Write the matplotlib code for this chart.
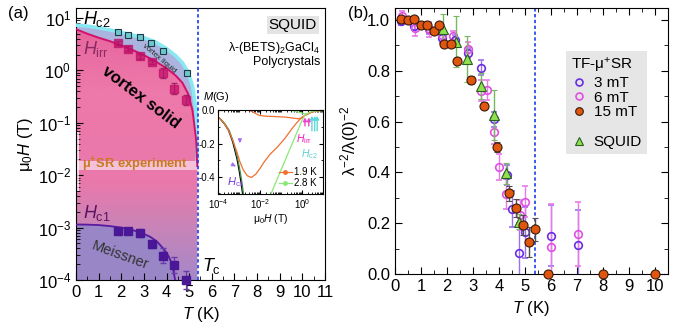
import numpy as np
import matplotlib
matplotlib.use("Agg")
import matplotlib.pyplot as plt
from matplotlib.colors import LinearSegmentedColormap
from matplotlib.path import Path
from matplotlib.lines import Line2D
from matplotlib.ticker import MultipleLocator, FixedLocator, LogLocator, NullFormatter

plt.rcParams['font.family'] = ['Liberation Sans', 'DejaVu Sans']
plt.rcParams['mathtext.fontset'] = 'custom'
plt.rcParams['mathtext.rm'] = 'Liberation Sans'
plt.rcParams['mathtext.it'] = 'Liberation Sans:italic'
plt.rcParams['mathtext.bf'] = 'Liberation Sans:bold'

TC = 5.37

# ---- panel (a): phase diagram ----
T_grid = [0, 0.5, 1.0, 1.5, 2.0, 2.5, 3.0, 3.5, 4.0, 4.4, 4.7, 4.95, 5.15, 5.3, 5.36]
Hc2_curve = [7.3, 7.0, 6.5, 5.9, 5.3, 4.7, 4.2, 3.5, 2.6, 1.9, 1.4, 0.92, 0.5, 0.18, 0.02]
Hirr_curve = [6.1, 5.0, 4.2, 3.6, 3.0, 2.45, 1.95, 1.5, 1.1, 0.8, 0.58, 0.36, 0.17, 0.05, 0.015]
T_c1_curve = [0, 0.5, 1.0, 1.5, 2.0, 2.5, 3.0, 3.3, 3.6, 3.9, 4.1, 4.25, 4.38, 4.45]
Hc1_curve = [1.15e-3, 1.14e-3, 1.12e-3, 1.07e-3, 1.0e-3, 9.0e-4, 7.6e-4, 6.6e-4,
             5.3e-4, 3.8e-4, 2.8e-4, 2.0e-4, 1.0e-4, 5e-5]

T_hc2 = [1.84, 2.31, 2.82, 3.33, 3.85, 4.9]
H_hc2 = [5.4, 4.8, 4.3, 3.4, 2.3, 0.91]
f_hc2 = [1.08, 1.08, 1.08, 1.08, 1.08, 1.1]

T_pts = [1.84, 2.31, 2.82, 3.35, 3.85, 4.35, 4.85]
H_irr = [3.3, 2.6, 1.85, 1.45, 0.9, 0.45, 0.27]
f_irr = [1.1, 1.1, 1.1, 1.1, 1.25, 1.28, 1.25]
H_c1 = [8.6e-4, 8.6e-4, 7.8e-4, 4.8e-4, 2.9e-4, 1.95e-4, 1.0e-4]
f_c1 = [1.15, 1.15, 1.2, 1.15, 1.38, 1.4, 1.5]

# ---- inset: M(H) ----
H_black = [1.0e-4, 1.26e-4, 2.0e-4, 3.16e-4, 5.0e-4, 7.9e-4, 1.0e-3, 1.26e-3, 1.5e-3]
M_black = [-0.04, -0.05, -0.08, -0.12, -0.19, -0.29, -0.36, -0.44, -0.51]
H_dgreen = [1.0e-4, 1.26e-4, 2.1e-4, 3.4e-4, 5.4e-4, 8.6e-4, 1.1e-3, 1.4e-3, 1.65e-3]
M_dgreen = [-0.04, -0.05, -0.08, -0.12, -0.19, -0.29, -0.36, -0.44, -0.51]
H_or_up = [1.0e-4, 1.26e-4, 2.0e-4, 3.16e-4, 5.0e-4, 7.9e-4, 1.1e-3, 1.6e-3, 2.5e-3, 3.9e-3,
           6.3e-3, 1.0e-2, 1.6e-2, 3.0e-2, 6.8e-2, 0.15, 0.29, 0.55, 1.0, 1.6, 2.9, 5.0, 9.0]
M_or_up = [-0.04, -0.05, -0.08, -0.12, -0.18, -0.25, -0.31, -0.36, -0.395, -0.405, -0.385,
           -0.35, -0.31, -0.265, -0.22, -0.17, -0.12, -0.075, -0.04, -0.025, -0.01, -0.003, 0.0]
H_or_dn = [3.2e-3, 5.0e-3, 9.3e-3, 2.0e-2, 3.9e-2, 0.16, 0.68, 1.0, 1.4, 2.9, 5.0, 9.0]
M_or_dn = [0.0, -0.012, -0.03, -0.035, -0.036, -0.04, -0.05, -0.045, -0.03, -0.01, -0.003, 0.0]
H_lg_up = [0.033, 0.1, 0.316, 1.0, 1.4, 3.0, 9.0]
M_lg_up = [-0.505, -0.36, -0.21, -0.06, -0.025, -0.005, 0.0]
H_lg_dn = [0.2, 0.34, 0.7, 1.4]
M_lg_dn = [0.01, 0.0, -0.01, -0.02]
H_arr_irr = [1.38, 2.1]
H_arr_c2 = [2.95, 4.0, 5.25]

# ---- panel (b): superfluid density ----
T_15 = [0.22, 0.49, 0.74, 0.99, 1.24, 1.5, 1.69, 1.88, 2.14, 2.4, 2.92, 3.43, 3.91,
        4.4, 4.65, 4.91, 5.14, 5.38, 5.9, 8.0, 10.0]
v_15 = [1.003, 1.0, 1.004, 0.98, 0.98, 0.958, 0.98, 0.904, 0.904, 0.839, 0.764, 0.663,
        0.50, 0.318, 0.261, 0.192, 0.127, 0.177, 0.0, 0.0, 0.0]
e_15 = [0.01, 0.01, 0.01, 0.01, 0.01, 0.01, 0.01, 0.01, 0.01, 0.01, 0.015, 0.015, 0.02,
        0.03, 0.035, 0.04, 0.06, 0.045, 0, 0, 0]
T_3 = [0.25, 0.75, 1.3, 1.8, 2.3, 2.8, 3.31, 3.81, 4.32, 4.5, 4.78, 5.01, 6.0, 7.03]
v_3 = [0.995, 0.975, 0.965, 0.93, 0.92, 0.871, 0.812, 0.609, 0.39, 0.255, 0.081, 0.164,
       0.151, 0.114]
e_3 = [0.015, 0.015, 0.02, 0.02, 0.02, 0.02, 0.03, 0.03, 0.04, 0.07, 0.12, 0.1, 0.12, 0.14]
T_6 = [0.26, 0.77, 1.32, 1.8, 2.22, 2.8, 3.3, 3.55, 3.81, 4.01, 4.29, 4.81, 5.01, 6.0, 7.03]
v_6 = [1.015, 0.967, 0.963, 0.94, 0.937, 0.885, 0.722, 0.724, 0.56, 0.422, 0.315, 0.232,
       0.285, 0.105, 0.157]
e_6 = [0.02, 0.03, 0.03, 0.02, 0.02, 0.03, 0.04, 0.04, 0.05, 0.05, 0.06, 0.06, 0.06, 0.17, 0.125]
T_sq = [1.86, 2.33, 2.78, 3.3, 3.81, 4.29, 4.78]
v_sq = [0.963, 0.915, 0.845, 0.74, 0.626, 0.396, 0.206]
e_sq = [0.06, 0.1, 0.09, 0.05, 0.1, 0.04, 0.03]


def ferr(vals, fac):
    vals = np.asarray(vals)
    fac = np.asarray(fac)
    return [vals - vals / fac, vals * fac - vals]


fig = plt.figure(figsize=(6.91, 3.33), dpi=100)
ax = fig.add_axes([0.110, 0.159, 0.3603, 0.817])
axb = fig.add_axes([0.5716, 0.177, 0.395, 0.799])

# ================= panel (a) =================
ax.set_yscale('log')
ax.set_xlim(0, 11)
ax.set_ylim(1e-4, 15.5)
ax.set_autoscale_on(False)

# vortex solid: vertical gradient clipped under H_irr
grad = LinearSegmentedColormap.from_list(
    'solid', [(0.0, '#a488c8'), (0.19, '#c884b8'), (0.36, '#ea78aa'),
              (0.7, '#ee78aa'), (1.0, '#e3609a')])
im = ax.imshow(np.linspace(0, 1, 256).reshape(-1, 1), cmap=grad, origin='lower',
               extent=[0, 1, 0, 1], transform=ax.transAxes, aspect='auto', zorder=0)
verts = list(zip(T_grid, Hirr_curve)) + [(T_grid[-1], 1e-4), (0, 1e-4), (0, Hirr_curve[0])]
im.set_clip_path(Path(verts), ax.transData)

ax.fill_between(T_c1_curve, 1e-5, Hc1_curve, color='#9886c6', lw=0, zorder=1)
ax.fill_between(T_grid, Hirr_curve, Hc2_curve, color='#aab4de', lw=0, zorder=1)

# muSR band
ax.fill_between([0, 5.35], 1.25e-2, 1.9e-2, color='white', alpha=0.55, lw=0, zorder=2)
ax.fill_between([0, 0.12], 4.9e-3, 6.6e-2, color='white', alpha=0.7, lw=0, zorder=2)

ax.plot(T_grid, Hc2_curve, color='#8ae8f2', lw=2.6, zorder=3)
ax.plot(T_grid, Hirr_curve, color='#d4106a', lw=1.4, zorder=3)
ax.plot(T_c1_curve, Hc1_curve, color='#5a1aa0', lw=1.3, zorder=3)
ax.axvline(TC, color='#1a3ee8', ls=(0, (2, 1.5)), lw=1.2, zorder=3)

ax.errorbar(T_hc2, H_hc2, yerr=ferr(H_hc2, f_hc2), fmt='s', ms=5, mfc='#6cc8cc',
            mec='#203848', mew=0.8, ecolor='#203848', elinewidth=0.8, capsize=2, zorder=5)
ax.errorbar(T_pts, H_irr, yerr=ferr(H_irr, f_irr), fmt='s', ms=6, color='#c0106a',
            alpha=0.75, ecolor='#8a1050', elinewidth=0.9, capsize=2, zorder=5)
ax.errorbar(T_pts, H_c1, yerr=ferr(H_c1, f_c1), fmt='s', ms=6, color='#4a1896',
            ecolor='#6a3aa8', elinewidth=0.9, capsize=2, zorder=5, clip_on=False)

ax.text(0.3, 9.5, r'$H_{\mathrm{c2}}$', fontsize=13, va='center', zorder=6)
ax.text(0.3, 2.6, r'$H_{\mathrm{irr}}$', fontsize=13, va='center', color='#8a2a62', zorder=6)
ax.text(3.65, 1.7, 'vortex liquid', fontsize=5.5, rotation=-40, ha='center', va='center',
        color='#222222', zorder=6)
ax.text(2.85, 0.3, 'vortex solid', fontsize=12, fontweight='bold', rotation=-37,
        ha='center', va='center', zorder=6)
ax.text(2.6, 1.55e-2, r'μ$^{\mathbf{+}}$SR experiment', fontsize=9.3, fontweight='bold',
        color='#c87a20', ha='center', va='center', zorder=6)
ax.text(0.3, 1.9e-3, r'$H_{\mathrm{c1}}$', fontsize=13, va='center', color='#5a1262', zorder=6)
ax.text(1.95, 3.0e-4, 'Meissner', fontsize=10.5, rotation=-20, ha='center', va='center',
        color='#333333', zorder=6)
ax.text(5.55, 1.85e-4, r'$T_{\mathrm{c}}$', fontsize=13, va='center', zorder=6)
ax.text(0.968, 0.9375, 'SQUID', transform=ax.transAxes, fontsize=11, ha='right',
        va='center', bbox=dict(facecolor='#e4e4e4', edgecolor='none', pad=1.5), zorder=6)
ax.text(0.98, 0.853, r'λ-(BETS)$_2$GaCl$_4$', transform=ax.transAxes, fontsize=9,
        ha='right', va='center', zorder=6)
ax.text(0.98, 0.80, 'Polycrystals', transform=ax.transAxes, fontsize=9,
        ha='right', va='center', zorder=6)

ax.xaxis.set_major_locator(MultipleLocator(1))
ax.xaxis.set_minor_locator(MultipleLocator(0.5))
ax.yaxis.set_major_locator(LogLocator(base=10, numticks=10))
ax.yaxis.set_minor_locator(LogLocator(base=10, subs=np.arange(2, 10), numticks=20))
ax.yaxis.set_minor_formatter(NullFormatter())
ax.tick_params(which='both', direction='in', top=False, right=False, labelsize=12)
ax.tick_params(which='major', length=5)
ax.tick_params(which='minor', length=3)
ax.set_xlabel(r'$T$ (K)', fontsize=12)
ax.set_ylabel(r'$\mathrm{\mu_0}H$ (T)', fontsize=12, labelpad=2)

# ================= inset =================
axin = fig.add_axes([0.3155, 0.4174, 0.152, 0.2523])
axin.set_xscale('log')
axin.set_xlim(1e-4, 10)
axin.set_ylim(-0.505, 0.003)
axin.plot(H_black, M_black, color='black', lw=0.9)
axin.plot(H_dgreen, M_dgreen, color='#3d8b45', lw=0.9)
axin.plot(H_or_up, M_or_up, color='#f07030', lw=0.9)
axin.plot(H_or_dn, M_or_dn, color='#f07030', lw=0.9)
axin.plot(H_lg_up, M_lg_up, color='#8ae878', lw=0.9)
axin.plot(H_lg_dn, M_lg_dn, color='#8ae878', lw=0.9)
for h in H_arr_irr:
    axin.annotate('', xy=(h, -0.025), xytext=(h, -0.11),
                  arrowprops=dict(arrowstyle='-|>', color='#f040d0', lw=1, mutation_scale=5))
for h in H_arr_c2:
    axin.annotate('', xy=(h, -0.015), xytext=(h, -0.14),
                  arrowprops=dict(arrowstyle='-|>', color='#60d8d8', lw=1, mutation_scale=5))
axin.annotate('', xy=(1.1e-3, -0.215), xytext=(1.1e-3, -0.155),
              arrowprops=dict(arrowstyle='-|>', color='#a070f0', lw=1, mutation_scale=5))
axin.annotate('', xy=(9.3e-4, -0.345), xytext=(4.5e-4, -0.325),
              arrowprops=dict(arrowstyle='-|>', color='#a070f0', lw=1, mutation_scale=5))
axin.text(0.5, -0.175, r'$H_{\mathrm{irr}}$', fontsize=7.5, color='#f020c0', va='center')
axin.text(0.85, -0.265, r'$H_{\mathrm{c2}}$', fontsize=7.5, color='#60d0d0', va='center')
axin.text(2.6e-4, -0.43, r'$H_{\mathrm{c1}}$', fontsize=8, color='#7a3ae0', va='center')
axin.text(-0.14, 1.15, r'$M$(G)', transform=axin.transAxes, fontsize=8, va='center')
leg_in = [Line2D([], [], color='#f07030', marker='o', ms=2.5, lw=0.9),
          Line2D([], [], color='#8ae878', marker='o', ms=2.5, lw=0.9)]
axin.legend(leg_in, ['1.9 K', '2.8 K'], loc='lower right', fontsize=7, frameon=False,
            handlelength=1.3, handletextpad=0.3, labelspacing=0.1, borderaxespad=0.2)
axin.xaxis.set_major_locator(FixedLocator([1e-4, 1e-2, 1e0]))
axin.xaxis.set_minor_locator(LogLocator(base=10, subs=np.arange(1, 10), numticks=30))
axin.xaxis.set_minor_formatter(NullFormatter())
axin.yaxis.set_major_locator(FixedLocator([0.0, -0.2, -0.4]))
axin.yaxis.set_minor_locator(MultipleLocator(0.1))
axin.yaxis.set_major_formatter(plt.FuncFormatter(lambda v, p: '%.1f' % v))
axin.tick_params(which='both', direction='in', top=True, right=True, labelsize=7, pad=2)
axin.tick_params(which='major', length=3)
axin.tick_params(which='minor', length=1.5)
axin.set_xlabel(r'$\mathrm{\mu_0}H$ (T)', fontsize=7.5, labelpad=1)

# ================= panel (b) =================
axb.set_xlim(0, 10.5)
axb.set_ylim(0, 1.047)
axb.axvline(TC, color='#1a3ee8', ls=(0, (2, 1.5)), lw=1.2, zorder=1)
axb.errorbar(T_3, v_3, yerr=e_3, fmt='o', ms=5.5, mfc='none', mec='#6a2ee0', mew=1.2,
             ecolor='#9a70ee', elinewidth=1, capsize=2, zorder=3)
axb.errorbar(T_6, v_6, yerr=e_6, fmt='o', ms=5.5, mfc='none', mec='#e050e0', mew=1.2,
             ecolor='#e87ae8', elinewidth=1, capsize=2, zorder=3)
axb.errorbar(T_sq, v_sq, yerr=e_sq, fmt='^', ms=7, mfc='#90e050', mec='#2a6020', mew=0.8,
             ecolor='#78b860', elinewidth=1, capsize=2, zorder=4)
axb.errorbar(T_15, v_15, yerr=e_15, fmt='o', ms=6.5, mfc='#e0560e', mec='#3a1a08', mew=0.8,
             ecolor='#505050', elinewidth=1, capsize=2, zorder=5, clip_on=False)

handles = [Line2D([], [], ls='none', marker='o', ms=5, mfc='none', mec='#6a2ee0', mew=1.2),
           Line2D([], [], ls='none', marker='o', ms=5, mfc='none', mec='#e050e0', mew=1.2),
           Line2D([], [], ls='none', marker='o', ms=5.5, mfc='#e0560e', mec='#3a1a08', mew=0.8),
           Line2D([], [], ls='none'),
           Line2D([], [], ls='none', marker='^', ms=6, mfc='#90e050', mec='#2a6020', mew=0.8)]
leg = axb.legend(handles, ['3 mT', '6 mT', '15 mT', '', 'SQUID'], title=r'TF-μ$^{+}$SR',
                 loc='upper left', bbox_to_anchor=(0.597, 0.868), fontsize=11,
                 title_fontsize=11, alignment='left', facecolor='#e6e6e6', edgecolor='none',
                 framealpha=1, fancybox=False, handlelength=1.0, handletextpad=0.5,
                 labelspacing=0.05, borderpad=0.35)

axb.xaxis.set_major_locator(MultipleLocator(1))
axb.xaxis.set_minor_locator(MultipleLocator(0.5))
axb.yaxis.set_major_locator(MultipleLocator(0.2))
axb.yaxis.set_minor_locator(MultipleLocator(0.1))
axb.yaxis.set_major_formatter(plt.FuncFormatter(lambda v, p: '%.1f' % v))
axb.tick_params(which='both', direction='in', top=True, right=True, labelsize=12)
axb.tick_params(which='major', length=5)
axb.tick_params(which='minor', length=3)
axb.set_xlabel(r'$T$ (K)', fontsize=12)
axb.set_ylabel(r'$\mathrm{\lambda}^{-2}/\mathrm{\lambda(0)}^{-2}$', fontsize=12, labelpad=4)

fig.text(0.012, 0.945, '(a)', fontsize=12)
fig.text(0.503, 0.945, '(b)', fontsize=12)

fig.savefig('out.png', dpi=100)
